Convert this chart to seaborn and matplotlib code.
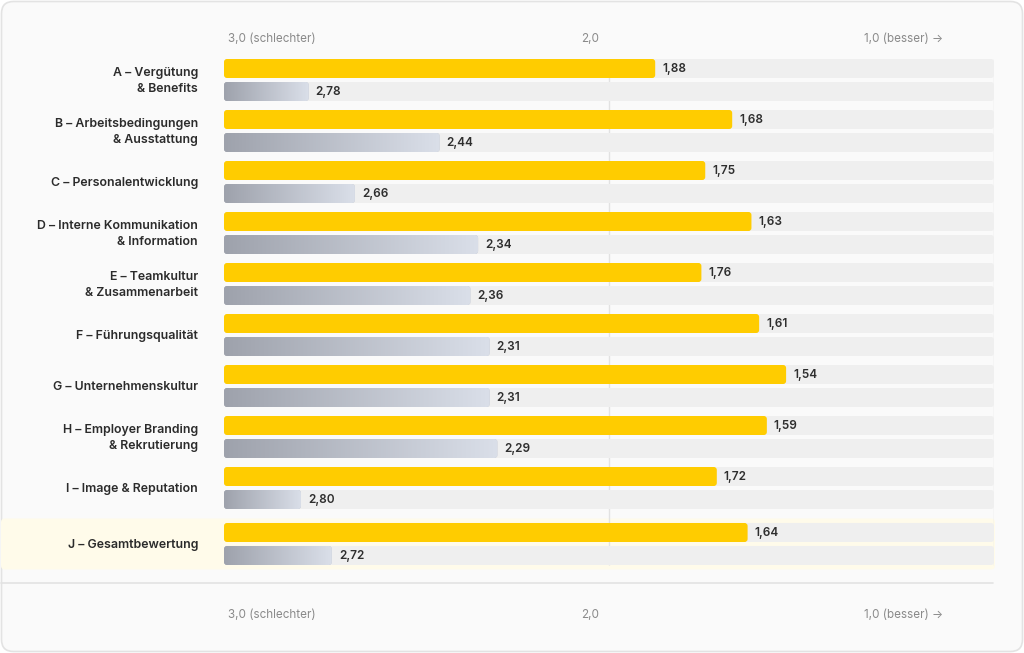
import numpy as np
import pandas as pd
import matplotlib
matplotlib.use("Agg")
import matplotlib.pyplot as plt
from matplotlib.patches import FancyBboxPatch
from matplotlib.colors import LinearSegmentedColormap
import seaborn as sns

# ---------------- data ----------------
categories = [
    "A – Vergütung\n& Benefits",
    "B – Arbeitsbedingungen\n& Ausstattung",
    "C – Personalentwicklung",
    "D – Interne Kommunikation\n& Information",
    "E – Teamkultur\n& Zusammenarbeit",
    "F – Führungsqualität",
    "G – Unternehmenskultur",
    "H – Employer Branding\n& Rekrutierung",
    "I – Image & Reputation",
    "J – Gesamtbewertung",
]
score_current = [1.88, 1.68, 1.75, 1.63, 1.76, 1.61, 1.54, 1.59, 1.72, 1.64]
score_compare = [2.78, 2.44, 2.66, 2.34, 2.36, 2.31, 2.31, 2.29, 2.80, 2.72]
scale_worst = 3.0
scale_best = 1.0
tick_values = [3.0, 2.0, 1.0]
tick_labels = ["3,0 (schlechter)", "2,0", "1,0 (besser) →"]
highlight_category = "J – Gesamtbewertung"

# ---------------- style ----------------
sns.set_theme(style="white")
plt.rcParams["font.family"] = ["Inter", "DejaVu Sans"]

W, H, DPI = 1024, 653, 100
fig = plt.figure(figsize=(W / DPI, H / DPI), dpi=DPI)
fig.patch.set_facecolor("white")

# card background
card = FancyBboxPatch((1.5 / W, 1.5 / H), (W - 3) / W, (H - 3) / H,
                      boxstyle=f"round,pad=0,rounding_size={12 / W}",
                      mutation_aspect=W / H, transform=fig.transFigure,
                      facecolor="#fafafa", edgecolor="#e3e3e3", linewidth=1.2,
                      zorder=0)
fig.add_artist(card)

# axes geometry (pixel layout)
ax_left_px, ax_right_px = 224, 994
ax_top_px, ax_bot_px = 30, 583
row0_px, row_px = 80.0, 51.0
ax = fig.add_axes([ax_left_px / W, (H - ax_bot_px) / H,
                   (ax_right_px - ax_left_px) / W, (ax_bot_px - ax_top_px) / H])
ax.set_facecolor("none")
span = scale_worst - scale_best
px_x = (ax_right_px - ax_left_px) / span  # px per unit
ax.set_xlim(0, span)
y_top = (ax_top_px - row0_px) / row_px
y_bot = (ax_bot_px - row0_px) / row_px
ax.set_ylim(y_bot, y_top)
for s in ax.spines.values():
    s.set_visible(False)
ax.set_xticks([])
ax.set_yticks([])
ax.set_xlabel("")
ax.set_ylabel("")

# row positions (extra gap before the overall score row)
n = len(categories)
pos = np.array([i + (0.098 if categories[i] == highlight_category else 0.0) for i in range(n)])
off = 11.5 / row_px
bar_h = 19.0 / row_px

df = pd.DataFrame({
    "category": categories,
    "pos": pos,
    "cur": score_current,
    "cmp": score_compare,
})
df["cur_len"] = scale_worst - df["cur"]
df["cmp_len"] = scale_worst - df["cmp"]
df["track"] = span
df["y_cur"] = df["pos"] - off
df["y_cmp"] = df["pos"] + off

aspect = px_x / row_px
rad = 3.0 / px_x


def draw_bars(x, y, color, zorder):
    before = list(ax.patches)
    sns.barplot(data=df, x=x, y=y, orient="y", native_scale=True,
                width=bar_h, color=color, errorbar=None, ax=ax,
                saturation=1, linewidth=0)
    new = [p for p in ax.patches if p not in before]
    out = []
    for p in new:
        bx, by, bw, bh = p.get_x(), p.get_y(), p.get_width(), p.get_height()
        p.remove()
        fb = FancyBboxPatch((bx, by), bw, bh,
                            boxstyle=f"round,pad=0,rounding_size={rad}",
                            mutation_aspect=aspect, facecolor=color,
                            edgecolor="none", zorder=zorder)
        ax.add_patch(fb)
        out.append((fb, bx, by, bw, bh))
    return out


# highlight band for overall row
hi = df[df["category"] == highlight_category].iloc[0]
band_top = hi["pos"] - 25.5 / row_px
band_h = 51.0 / row_px
band = FancyBboxPatch(((1 - ax_left_px) / px_x, band_top), (995 - 1) / px_x, band_h,
                      boxstyle=f"round,pad=0,rounding_size={4 / px_x}",
                      mutation_aspect=aspect, facecolor="#fffbea",
                      edgecolor="none", zorder=0.2, clip_on=False)
ax.add_patch(band)

# grid lines
g_top = df["y_cur"].min() - bar_h / 2
g_bot = df["y_cmp"].max() + bar_h / 2
ax.vlines([scale_worst - v for v in tick_values[1:]], g_top, g_bot,
          color="#e2e2e2", linewidth=1, zorder=0.5)

# tracks
draw_bars("track", "y_cur", "#efefef", 1)
draw_bars("track", "y_cmp", "#efefef", 1)

# current bars
draw_bars("cur_len", "y_cur", "#ffcc00", 2)

# comparison bars with gradient
grad_cmap = LinearSegmentedColormap.from_list("g", ["#9ea2ac", "#dadfe9"])
grad = np.linspace(0, 1, 256).reshape(1, -1)
for fb, bx, by, bw, bh in draw_bars("cmp_len", "y_cmp", "#bfc3cc", 2):
    im = ax.imshow(grad, cmap=grad_cmap, aspect="auto",
                   extent=(bx, bx + bw, by + bh, by), zorder=2.1,
                   interpolation="bicubic")
    im.set_clip_path(fb)
ax.set_xlim(0, span)
ax.set_ylim(y_bot, y_top)

# value labels
for _, r in df.iterrows():
    ax.text(r["cur_len"] + 7 / px_x, r["y_cur"] + 0.5 / row_px,
            f"{r['cur']:.2f}".replace(".", ","),
            ha="left", va="center", fontsize=8.5, fontweight="semibold",
            color="#2e2e2e", zorder=3)
    ax.text(r["cmp_len"] + 7 / px_x, r["y_cmp"] + 0.5 / row_px,
            f"{r['cmp']:.2f}".replace(".", ","),
            ha="left", va="center", fontsize=8.5, fontweight="semibold",
            color="#2e2e2e", zorder=3)

# category labels
for _, r in df.iterrows():
    ax.text(-26 / px_x, r["pos"] + 1.0 / row_px, r["category"], ha="right", va="center",
            multialignment="right", fontsize=8.9, fontweight="semibold",
            color="#2b2b2b", linespacing=1.35, zorder=3)

# separator line
ax.plot([(1 - ax_left_px) / px_x, (993 - ax_left_px) / px_x], [y_bot, y_bot],
        color="#e2e2e2", linewidth=1.2, clip_on=False, zorder=1)

# scale labels (top and bottom)
label_px = [(228, "left"), (590, "center"), (943, "right")]
for yy in [(39.5 - row0_px) / row_px, (615.5 - row0_px) / row_px]:
    for (xp, ha), lab in zip(label_px, tick_labels):
        ax.text((xp - ax_left_px) / px_x, yy, lab, ha=ha, va="center",
                fontsize=8.4, color="#8a8a8a", clip_on=False,
                family=["Inter", "DejaVu Sans"])

fig.savefig("out.png", dpi=DPI, facecolor="white")
